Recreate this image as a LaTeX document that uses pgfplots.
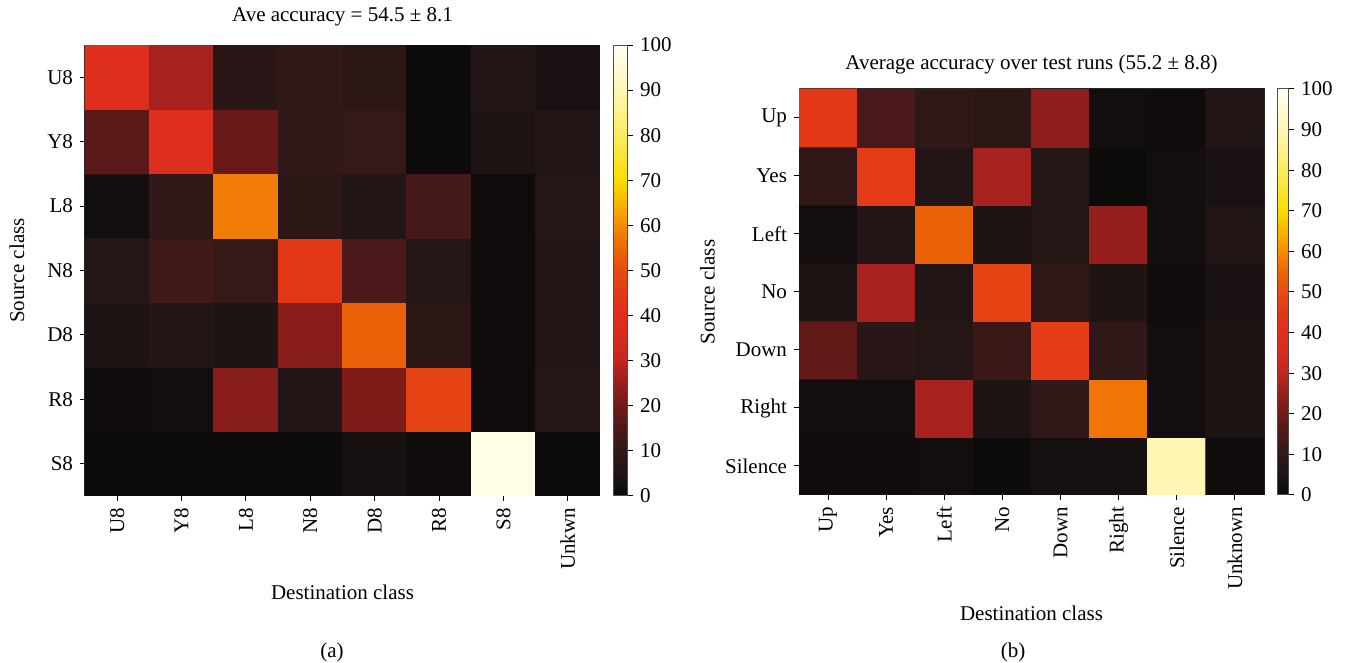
\documentclass[border=0pt]{standalone}
\usepackage{fontspec}
\setmainfont{Liberation Serif}
\usepackage{pgfplots}
\usepackage{pgfplotstable}
\pgfplotsset{compat=1.18}
\pgfplotstableread{
x y z
0 0 0.5
1 0 0
2 0 0
3 0 0.5
4 0 3
5 0 1
6 0 98
7 0 0.5
0 1 1
1 1 2
2 1 23
3 1 6
4 1 22
5 1 48
6 1 1
7 1 7
0 2 5
1 2 6
2 2 5
3 2 23
4 2 54
5 2 9
6 2 1
7 2 6
0 3 7
1 3 13
2 3 11
3 3 45
4 3 15
5 3 7
6 3 1
7 3 6
0 4 2
1 4 10
2 4 58
3 4 9
4 4 6
5 4 14
6 4 1
7 4 7
0 5 17
1 5 40
2 5 19
3 5 10
4 5 11
5 5 0
6 5 5
7 5 6
0 6 40
1 6 27
2 6 8
3 6 10
4 6 9
5 6 0
6 6 6
7 6 4
}\tableA
\pgfplotstableread{
x y z
0 0 1
1 0 1
2 0 2
3 0 0.5
4 0 3
5 0 3
6 0 90
7 0 1
0 1 2
1 1 2
2 1 27
3 1 5
4 1 10
5 1 57
6 1 2
7 1 5
0 2 18
1 2 8
2 2 7
3 2 12
4 2 46
5 2 10
6 2 2
7 2 5
0 3 5
1 3 27
2 3 6
3 3 48
4 3 10
5 3 5
6 3 1
7 3 4
0 4 2
1 4 6
2 4 54
3 4 5
4 4 7
5 4 25
6 4 2
7 4 6
0 5 10
1 5 46
2 5 6
3 5 27
4 5 7
5 5 0.5
6 5 2
7 5 4
0 6 45
1 6 15
2 6 10
3 6 9
4 6 24
5 6 2
6 6 1
7 6 6
}\tableB
\pgfplotsset{
  hm/.style={
    scale only axis, anchor=south west,
    font=\fontsize{10.5}{12.6}\selectfont,
    colormap={hotx}{rgb255(0cm)=(12,10,10) rgb255(5cm)=(30,20,20) rgb255(10cm)=(48,24,24)
      rgb255(15cm)=(75,25,25) rgb255(20cm)=(112,26,24) rgb255(25cm)=(150,30,28)
      rgb255(30cm)=(192,38,32) rgb255(35cm)=(215,44,30) rgb255(40cm)=(222,46,30)
      rgb255(45cm)=(226,56,24) rgb255(50cm)=(231,75,16) rgb255(55cm)=(236,102,5)
      rgb255(60cm)=(244,140,6) rgb255(70cm)=(250,220,0) rgb255(80cm)=(250,236,95)
      rgb255(90cm)=(255,246,180) rgb255(100cm)=(255,255,245)},
    point meta min=0, point meta max=100,
    xmin=-0.5, xmax=7.5, ymin=-0.5, ymax=6.5,
    xtick={0,...,7}, ytick={0,...,6},
    tick align=outside, xtick pos=left, ytick pos=left,
    major tick length=2.5pt,
    x tick label style={rotate=90, anchor=east},
    tick style={black, line width=0.5pt},
    axis line style={black!85, line width=0.5pt},
    /pgf/number format/assume math mode=true,
    colorbar,
  },
  cbar/.style={
    at={(parent axis.north east)}, anchor=north west,
    xshift=-2pt, width=#1,
    ytick={0,10,...,100},
    ytick pos=right, yticklabel pos=right,
    tick align=outside, major tick length=3pt,
    minor tick num=0,
    tick style={black, line width=0.5pt},
    axis line style={black!70, line width=0.5pt},
    font=\fontsize{10.5}{12.6}\selectfont,
    /pgf/number format/assume math mode=true,
  },
}
\begin{document}
\begin{tikzpicture}
\useasboundingbox (0pt,0pt) rectangle (674pt,331.5pt);
\begin{axis}[hm,
  at={(42.5pt,83.5pt)}, width=257.5pt, height=225.5pt,
  colorbar style={cbar=7pt},
  xticklabels={U8,Y8,L8,N8,D8,R8,S8,Unkwn},
  yticklabels={S8,R8,D8,N8,L8,Y8,U8},
  title={Ave accuracy = 54.5 ± 8.1},
  title style={at={(axis description cs:0.5,1.0665)}, anchor=center, yshift=-7pt},
  xlabel={Destination class},
  xlabel style={at={(axis description cs:0.5,-0.213)}, anchor=center},
  ylabel={Source class},
  ylabel style={at={(axis description cs:-0.132,0.5)}, anchor=center},
]
\addplot[matrix plot*, mesh/cols=8, point meta=explicit] table[x=x, y=y, meta=z] {\tableA};
\end{axis}
\begin{axis}[hm,
  at={(399.5pt,84pt)}, width=232.5pt, height=203pt,
  colorbar style={cbar=5.5pt},
  xticklabels={Up,Yes,Left,No,Down,Right,Silence,Unknown},
  yticklabels={Silence,Right,Down,No,Left,Yes,Up},
  title={Average accuracy over test runs (55.2 ± 8.8)},
  title style={at={(axis description cs:0.5,1.0665)}, anchor=center, yshift=-7pt},
  xlabel={Destination class},
  xlabel style={at={(axis description cs:0.5,-0.291)}, anchor=center},
  ylabel={Source class},
  ylabel style={at={(axis description cs:-0.197,0.5)}, anchor=center},
]
\addplot[matrix plot*, mesh/cols=8, point meta=explicit] table[x=x, y=y, meta=z] {\tableB};
\end{axis}
\node[font=\fontsize{10.5}{12.6}\selectfont] at (166pt,5.5pt) {(a)};
\node[font=\fontsize{10.5}{12.6}\selectfont] at (506.5pt,5.5pt) {(b)};
\end{tikzpicture}
\end{document}
